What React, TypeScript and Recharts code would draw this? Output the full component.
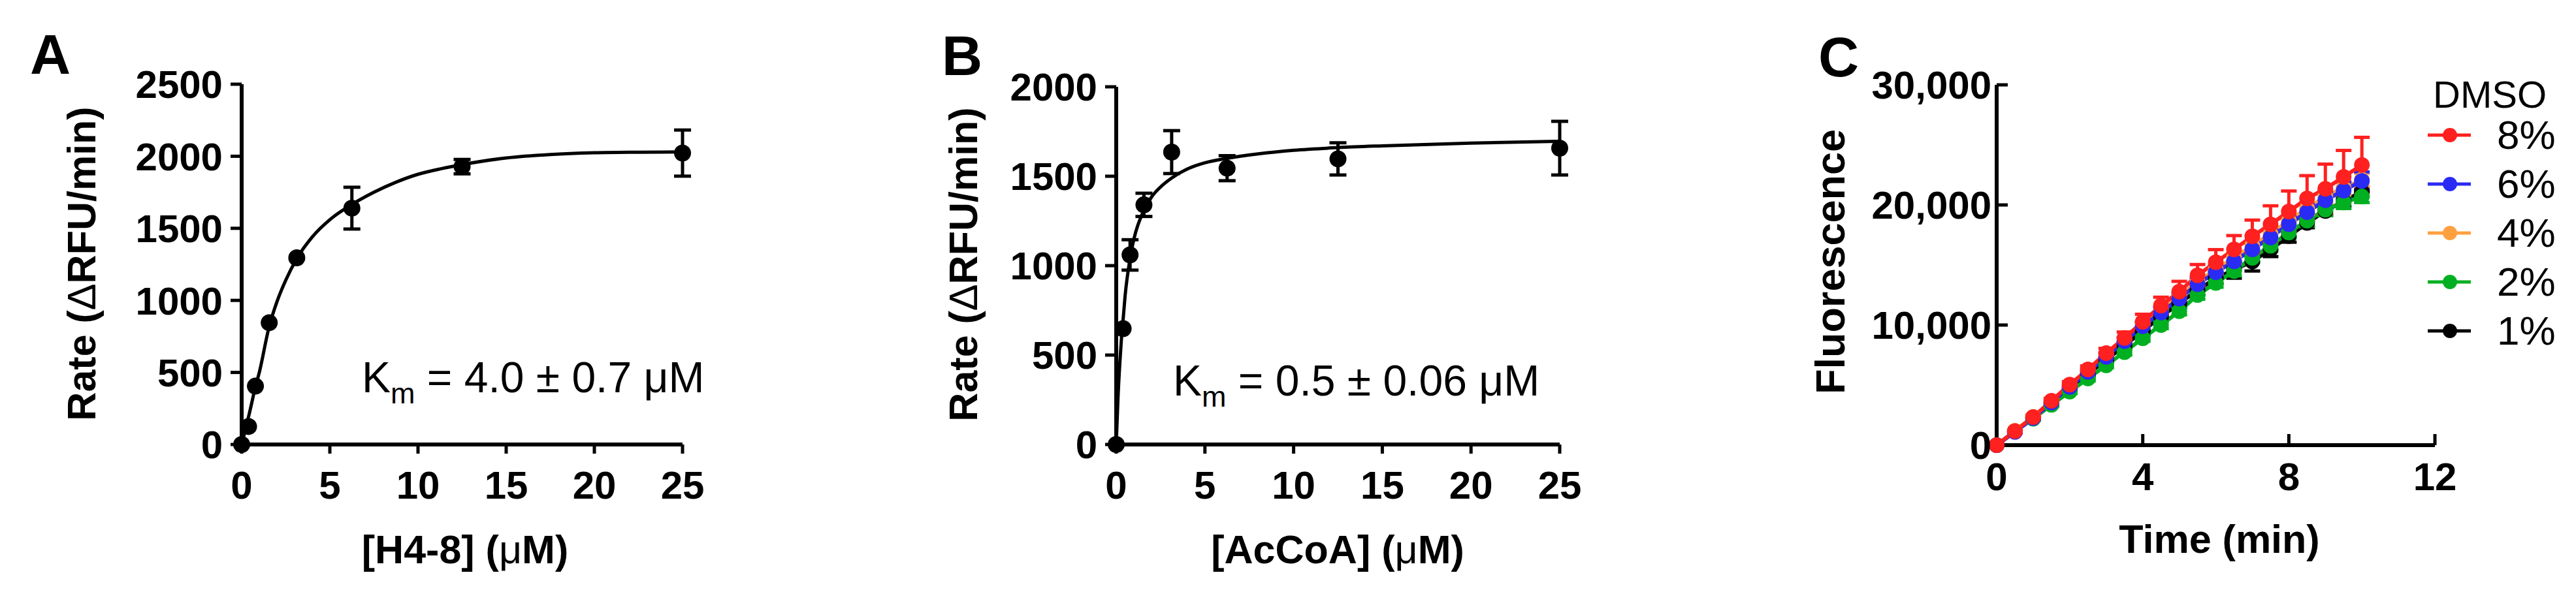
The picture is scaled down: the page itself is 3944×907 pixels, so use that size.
import React from 'react';
import { ComposedChart, LineChart, Line, Scatter, XAxis, YAxis, ErrorBar } from 'recharts';

const FONT = '"Liberation Sans", Arial, Helvetica, sans-serif';

// ---------- Panel A ----------
const aConc = [0, 0.39, 0.78, 1.5625, 3.125, 6.25, 12.5, 25];
const aRate = [0, 125, 405, 845, 1295, 1640, 1928, 2022];
const aErr = [0, 0, 0, 0, 0, 145, 50, 160];
const aFitX = [0, 0.25, 0.5, 0.78, 1, 1.5625, 2, 2.5, 3.125, 4, 5, 6.25, 7.5, 8.75, 10, 11.25, 12.5, 15, 17.5, 20, 22.5, 25];
const aFitY = [0, 120, 250, 400, 500, 820, 990, 1140, 1290, 1440, 1560, 1665, 1750, 1820, 1875, 1912, 1942, 1988, 2012, 2024, 2028, 2030];
const aTicksX = [0, 5, 10, 15, 20, 25];
const aTicksY = [0, 500, 1000, 1500, 2000, 2500];

// ---------- Panel B ----------
const bConc = [0, 0.39, 0.78, 1.5625, 3.125, 6.25, 12.5, 25];
const bRate = [0, 648, 1060, 1340, 1635, 1545, 1597, 1657];
const bErr = [0, 0, 85, 65, 120, 70, 90, 150];
const bFitX = [0, 0.1, 0.2, 0.3, 0.39, 0.5, 0.78, 1, 1.5625, 2, 2.5, 3.125, 4, 5, 6.25, 8, 10, 12.5, 15, 20, 25];
const bFitY = [0, 260, 450, 600, 700, 830, 1040, 1150, 1310, 1385, 1440, 1490, 1540, 1575, 1600, 1625, 1645, 1660, 1670, 1685, 1695];
const bTicksX = [0, 5, 10, 15, 20, 25];
const bTicksY = [0, 500, 1000, 1500, 2000];

// ---------- Panel C ----------
const cTime = [0, 0.5, 1, 1.5, 2, 2.5, 3, 3.5, 4, 4.5, 5, 5.5, 6, 6.5, 7, 7.5, 8, 8.5, 9, 9.5, 10];
const c8 = [0, 1170, 2340, 3690, 5045, 6300, 7660, 8920, 10270, 11620, 12790, 14140, 15230, 16300, 17390, 18380, 19460, 20540, 21350, 22340, 23330];
const c8e = [0, 100, 150, 200, 250, 300, 400, 500, 630, 700, 850, 900, 1050, 1150, 1350, 1550, 1700, 1900, 2050, 2200, 2300];
const c6 = [0, 1100, 2250, 3550, 4850, 6100, 7350, 8650, 9900, 11050, 12200, 13400, 14400, 15300, 16300, 17300, 18400, 19400, 20400, 21200, 22000];
const c6e = [0, 80, 120, 150, 200, 250, 300, 300, 350, 400, 400, 450, 500, 500, 550, 600, 600, 650, 700, 700, 750];
const c4 = [0, 1200, 2350, 3650, 4950, 6200, 7450, 8700, 9950, 11200, 12400, 13600, 14600, 15600, 16600, 17600, 18700, 19700, 20700, 21400, 22100];
const c4e = [0, 80, 100, 120, 150, 200, 200, 250, 250, 300, 300, 350, 350, 400, 400, 450, 450, 500, 500, 550, 550];
const c2 = [0, 1150, 2200, 3350, 4450, 5550, 6650, 7750, 8900, 10000, 11150, 12500, 13500, 14500, 15600, 16600, 17700, 18700, 19600, 20200, 20700];
const c2e = [0, 80, 100, 120, 150, 200, 200, 250, 250, 300, 300, 350, 350, 400, 400, 450, 450, 500, 500, 500, 500];
const c1 = [0, 1150, 2250, 3450, 4700, 5950, 7100, 8300, 9500, 10700, 11800, 12900, 13900, 14600, 15300, 16300, 17400, 18500, 19500, 20300, 21100];
const c1e = [0, 80, 100, 120, 150, 200, 200, 250, 300, 300, 350, 400, 450, 700, 800, 600, 500, 400, 350, 450, 400];
const cTicksX = [0, 4, 8, 12];
const cTicksY = [0, 10000, 20000, 30000];

const cSeries = [
  { key: 's1', label: '1%', color: '#000000', values: c1, errs: c1e },
  { key: 's2', label: '2%', color: '#00B020', values: c2, errs: c2e },
  { key: 's4', label: '4%', color: '#FFA040', values: c4, errs: c4e },
  { key: 's6', label: '6%', color: '#2A2AF5', values: c6, errs: c6e },
  { key: 's8', label: '8%', color: '#FF2020', values: c8, errs: c8e },
];
const legendOrder = ['s8', 's6', 's4', 's2', 's1'];

const aPoints = aConc.map((x, i) => ({ x, y: aRate[i], err: aErr[i] }));
const aFit = aFitX.map((x, i) => ({ x, y: aFitY[i] }));
const bPoints = bConc.map((x, i) => ({ x, y: bRate[i], err: bErr[i] }));
const bFit = bFitX.map((x, i) => ({ x, y: bFitY[i] }));
const cTable = cTime.map((t, i) => {
  const row: any = { t };
  cSeries.forEach((s) => {
    row[s.key] = s.values[i];
    row[s.key + 'e'] = s.errs[i];
  });
  return row;
});

const tickStyle = { fontSize: 60, fontWeight: 700, fill: '#000', fontFamily: FONT };
const axisLine = { stroke: '#000', strokeWidth: 6 };
const tickLine = { stroke: '#000', strokeWidth: 5 };

const dotShape = (props: any) => <circle cx={props.cx} cy={props.cy} r={13} fill="#000" />;

function abs(left: number, top: number, extra: any = {}) {
  return { position: 'absolute' as const, left, top, fontFamily: FONT, lineHeight: 1, color: '#000', whiteSpace: 'nowrap' as const, ...extra };
}

function Letter({ left, top, children }: any) {
  return <div style={abs(left, top, { fontSize: 86, fontWeight: 700 })}>{children}</div>;
}

function YTitle({ cx, cy, children, size = 61 }: any) {
  return (
    <div style={abs(cx, cy, { fontSize: size, fontWeight: 700, transform: 'translate(-50%, -50%) rotate(-90deg)' })}>{children}</div>
  );
}
function XTitle({ cx, cy, children, size = 61 }: any) {
  return <div style={abs(cx, cy, { fontSize: size, fontWeight: 700, transform: 'translate(-50%, -50%)' })}>{children}</div>;
}
function KmText({ left, top, value }: any) {
  return (
    <div style={abs(left, top, { fontSize: 66, fontWeight: 400 })}>
      K<span style={{ fontSize: 45, position: 'relative', top: 17 }}>m</span> = {value} μM
    </div>
  );
}

function KineticPanel({ left, points, fit, ticksX, ticksY, marginLeft, marginRight, top }: any) {
  return (
    <div style={{ position: 'absolute', left, top: 0 }}>
      <ComposedChart width={1200} height={907} margin={{ top, right: marginRight, bottom: 126, left: marginLeft }}>
        <XAxis
          type="number"
          dataKey="x"
          domain={[0, 25]}
          ticks={ticksX}
          interval={0}
          tick={tickStyle}
          axisLine={axisLine}
          tickLine={tickLine}
          tickSize={14}
          tickMargin={26}
          height={100}
        />
        <YAxis
          type="number"
          domain={[ticksY[0], ticksY[ticksY.length - 1]]}
          ticks={ticksY}
          interval={0}
          tick={tickStyle}
          axisLine={axisLine}
          tickLine={tickLine}
          tickSize={17}
          tickMargin={12}
          width={120}
        />
        <Line data={fit} dataKey="y" type="monotone" stroke="#000" strokeWidth={5} dot={false} activeDot={false} isAnimationActive={false} />
        <Scatter data={points} dataKey="y" shape={dotShape} isAnimationActive={false}>
          <ErrorBar dataKey="err" direction="y" width={13} strokeWidth={5} stroke="#000" />
        </Scatter>
      </ComposedChart>
    </div>
  );
}

export default function App() {
  return (
    <div style={{ position: 'absolute', left: 0, top: 0, width: 3944, height: 907, background: '#fff', overflow: 'hidden', fontFamily: FONT }}>
      <KineticPanel left={0} top={129} points={aPoints} fit={aFit} ticksX={aTicksX} ticksY={aTicksY} marginLeft={250} marginRight={155} />
      <KineticPanel left={1250} top={133} points={bPoints} fit={bFit} ticksX={bTicksX} ticksY={bTicksY} marginLeft={339} marginRight={62} />

      <div style={{ position: 'absolute', left: 2700, top: 0 }}>
        <LineChart width={1244} height={907} data={cTable} margin={{ top: 130, right: 216, bottom: 125, left: 237 }}>
          <XAxis
            type="number"
            dataKey="t"
            domain={[0, 12]}
            ticks={cTicksX}
            interval={0}
            tick={tickStyle}
            axisLine={axisLine}
            tickLine={tickLine}
            tickSize={-17}
            tickMargin={43}
            height={100}
          />
          <YAxis
            type="number"
            domain={[0, 30000]}
            ticks={cTicksY}
            interval={0}
            tick={tickStyle}
            tickFormatter={(v: number) => v.toLocaleString('en-US')}
            axisLine={axisLine}
            tickLine={tickLine}
            tickSize={-17}
            tickMargin={25}
            width={120}
          />
          {cSeries.map((s) => (
            <Line
              key={s.key}
              dataKey={s.key}
              type="linear"
              stroke={s.color}
              strokeWidth={6}
              dot={{ r: 12, fill: s.color, stroke: s.color, strokeWidth: 0 }}
              activeDot={false}
              isAnimationActive={false}
            >
              <ErrorBar dataKey={s.key + 'e'} direction="y" width={12} strokeWidth={5} stroke={s.color} />
            </Line>
          ))}
        </LineChart>
      </div>

      {/* Panel letters */}
      <Letter left={46} top={40}>A</Letter>
      <Letter left={1442} top={42}>B</Letter>
      <Letter left={2784} top={44}>C</Letter>

      {/* Axis titles */}
      <YTitle cx={125} cy={404}>Rate (<span style={{ fontWeight: 400 }}>Δ</span>RFU/min)</YTitle>
      <YTitle cx={1475} cy={405}>Rate (<span style={{ fontWeight: 400 }}>Δ</span>RFU/min)</YTitle>
      <YTitle cx={2802} cy={401} size={63}>Fluorescence</YTitle>
      <XTitle cx={712} cy={842}>[H4-8] (<span style={{ fontWeight: 400 }}>μ</span>M)</XTitle>
      <XTitle cx={2048} cy={842}>[AcCoA] (<span style={{ fontWeight: 400 }}>μ</span>M)</XTitle>
      <XTitle cx={3398} cy={826}>Time (min)</XTitle>

      {/* Km annotations */}
      <KmText left={554} top={545} value="4.0 ± 0.7" />
      <KmText left={1796} top={550} value="0.5 ± 0.06" />

      {/* Legend panel C */}
      <div style={abs(3725, 145, { fontSize: 58, transform: 'translateY(-50%)' })}>DMSO</div>
      {legendOrder.map((k, i) => {
        const s = cSeries.find((q) => q.key === k)!;
        const cy = 207 + i * 75;
        return (
          <div key={k}>
            <svg style={{ position: 'absolute', left: 3712, top: cy - 15 }} width={76} height={30}>
              <line x1={5} y1={15} x2={71} y2={15} stroke={s.color} strokeWidth={5} />
              <circle cx={39} cy={15} r={11} fill={s.color} />
            </svg>
            <div style={abs(3823, cy, { fontSize: 62, transform: 'translateY(-50%)' })}>{s.label}</div>
          </div>
        );
      })}
    </div>
  );
}
